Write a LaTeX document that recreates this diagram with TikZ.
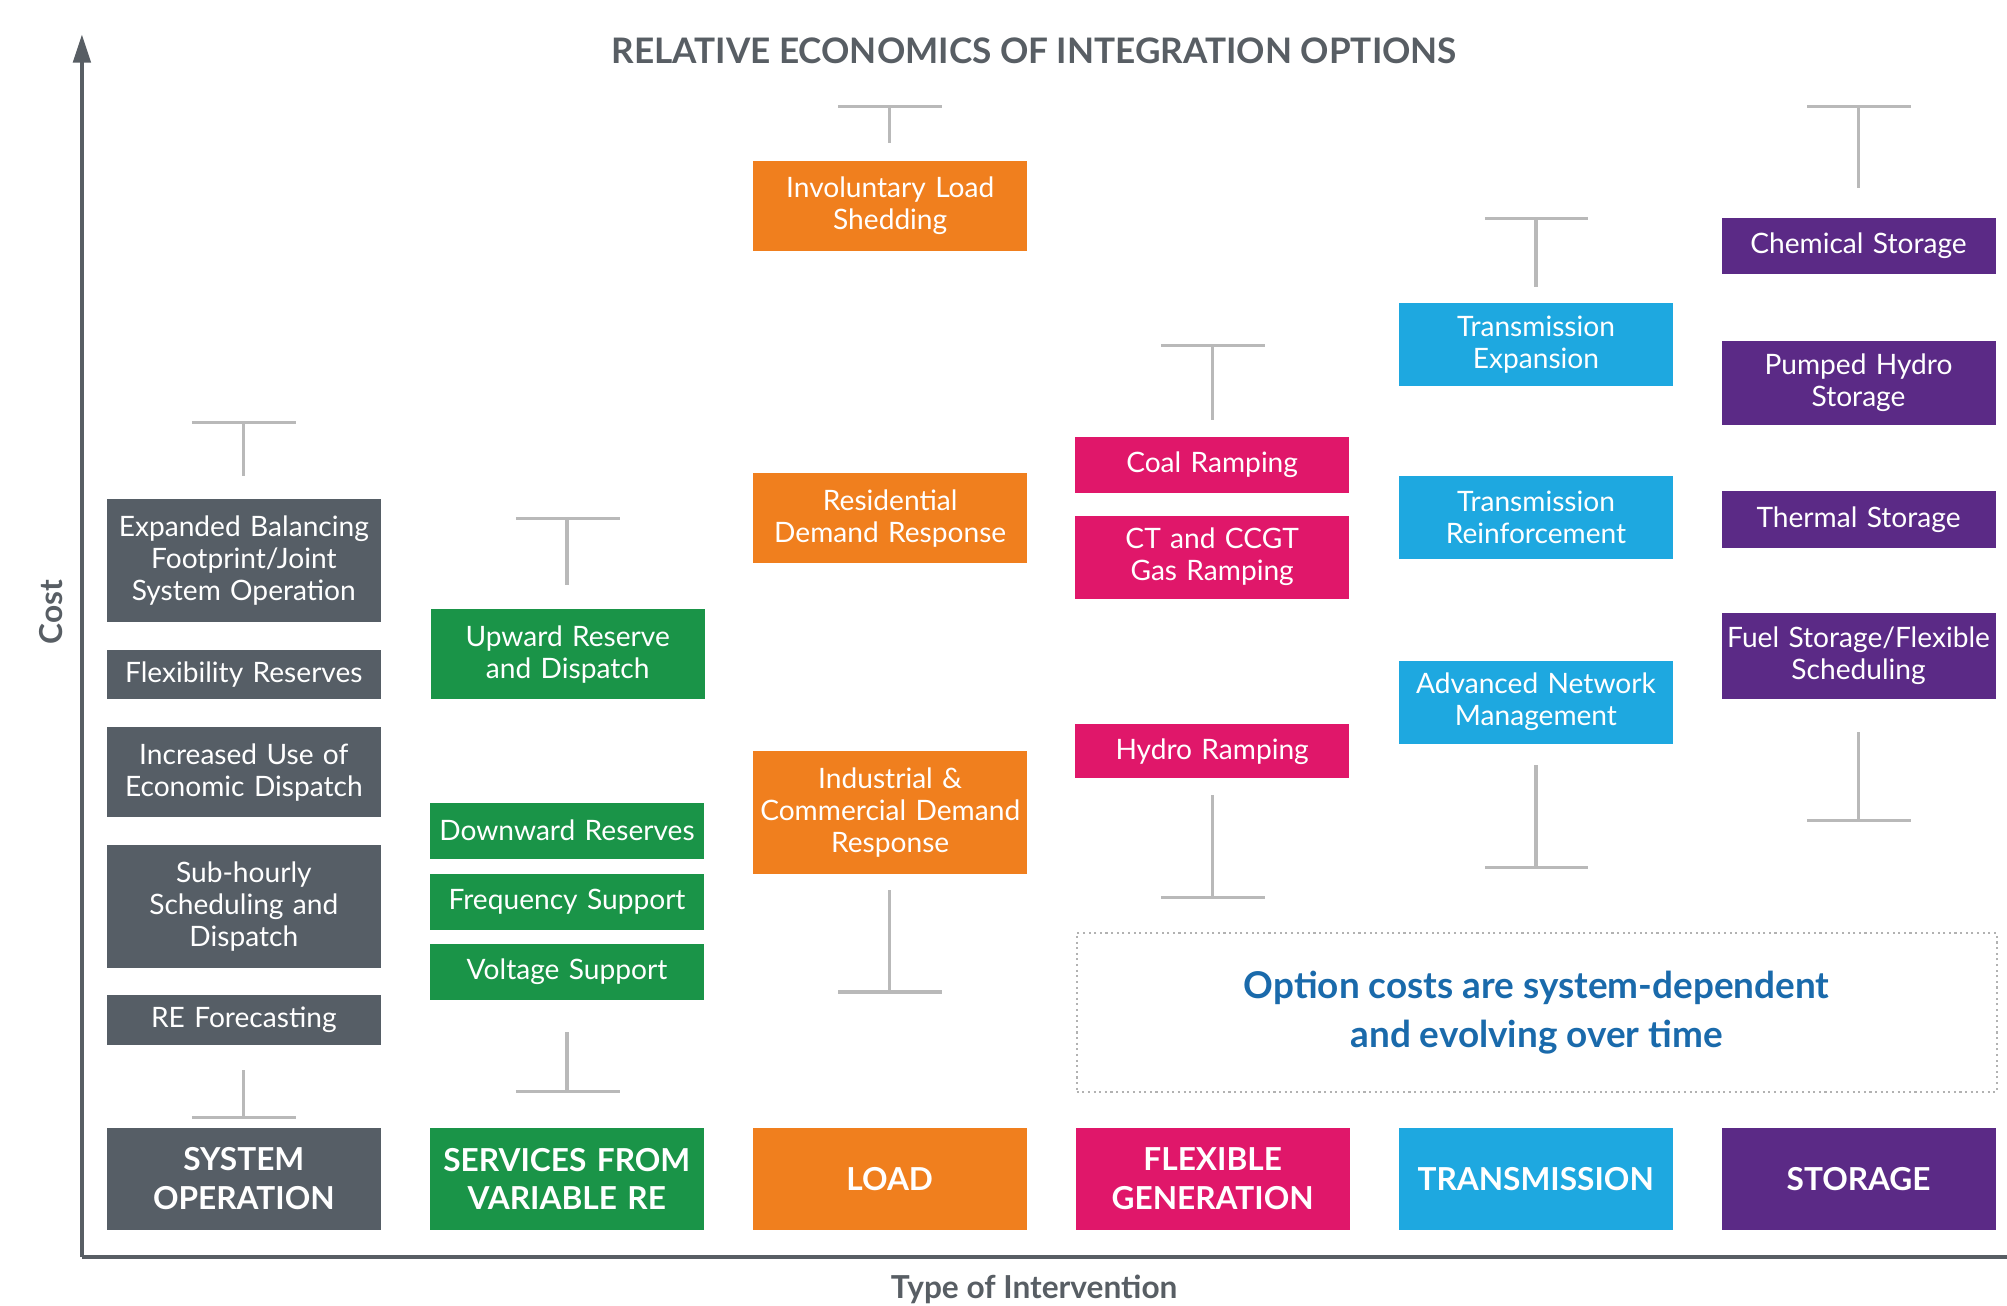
\documentclass[tikz,border=0pt]{standalone}
\usepackage{fontspec}
\setmainfont{Lato}
\usepackage{tikz}
\usetikzlibrary{positioning}
\usetikzlibrary{arrows.meta}

\definecolor{opGray}{RGB}{86,94,102}
\definecolor{reGreen}{RGB}{26,148,72}
\definecolor{loadOrange}{RGB}{240,127,30}
\definecolor{genPink}{RGB}{224,23,106}
\definecolor{transBlue}{RGB}{30,168,224}
\definecolor{storPurple}{RGB}{91,42,134}
\definecolor{axisGray}{RGB}{88,94,100}
\definecolor{noteBlue}{RGB}{26,106,171}

\tikzstyle{arrow} = [line width=1pt,->,>={Triangle[length=8pt,width=5pt]}]
\tikzstyle{axis} = [line width=1pt, draw=axisGray]
\tikzstyle{whisker} = [line width=0.9pt, draw=gray!55]
\tikzstyle{box} = [rectangle, inner sep=0pt, outer sep=0pt, minimum width=2.74cm, text width=2.74cm, align=center, text=white, font=\fontsize{8}{9.1}\selectfont]
\tikzstyle{oneline} = [box, minimum height=0.54cm]
\tikzstyle{twoline} = [box, minimum height=0.87cm]
\tikzstyle{threeline} = [box, minimum height=1.23cm]
\tikzstyle{category} = [box, minimum height=1.02cm, font=\bfseries\fontsize{9}{11}\selectfont]
\tikzstyle{label} = [text=axisGray, font=\bfseries\fontsize{9}{11}\selectfont]

\begin{document}
\begin{tikzpicture}[x=0.0128cm, y=-0.0128cm]
	\useasboundingbox (0,0) rectangle (1568,1020);
	
	%Coordinates
	\coordinate (origin) at (64,982);
	\coordinate (yTop) at (64,27);
	\coordinate (xEnd) at (1568,982);
	
	%Title and axis labels
	\node [label, font=\bfseries\fontsize{10}{12}\selectfont] (title) at (808,40) {RELATIVE ECONOMICS OF INTEGRATION OPTIONS};
	\node [label, rotate=90] (costLbl) at (40,478) {Cost};
	\node [label] (typeLbl) at (808,1007) {Type of Intervention};
	
	%Categories
	\node [category, fill=opGray] (sysOp) at (190.5,921) {SYSTEM\\OPERATION};
	\node [category, fill=reGreen, right=0.49cm of sysOp] (varRE) {SERVICES FROM\\VARIABLE RE};
	\node [category, fill=loadOrange, right=0.49cm of varRE] (load) {LOAD};
	\node [category, fill=genPink, right=0.49cm of load] (flexGen) {FLEXIBLE\\GENERATION};
	\node [category, fill=transBlue, right=0.49cm of flexGen] (trans) {TRANSMISSION};
	\node [category, fill=storPurple, right=0.49cm of trans] (storage) {STORAGE};
	
	%System operation
	\node [threeline, fill=opGray] (expBal) at (190.5,438) {Expanded Balancing\\Footprint/Joint\\System Operation};
	\node [oneline, fill=opGray, minimum height=0.49cm, below=0.28cm of expBal] (flexRes) {Flexibility Reserves};
	\node [twoline, fill=opGray, minimum height=0.9cm, below=0.28cm of flexRes] (incEcon) {Increased Use of\\Economic Dispatch};
	\node [threeline, fill=opGray, below=0.28cm of incEcon] (subHourly) {Sub-hourly\\Scheduling and\\Dispatch};
	\node [oneline, fill=opGray, minimum height=0.5cm, below=0.27cm of subHourly] (reFcst) {RE Forecasting};
	
	%Services from variable RE
	\node [twoline, fill=reGreen, minimum height=0.9cm] (upRes) at (443.5,511) {Upward Reserve\\and Dispatch};
	\node [oneline, fill=reGreen, minimum height=0.56cm] (downRes) at (443,649) {Downward Reserves};
	\node [oneline, fill=reGreen, minimum height=0.56cm, below=0.15cm of downRes] (freqSup) {Frequency Support};
	\node [oneline, fill=reGreen, minimum height=0.56cm, below=0.14cm of freqSup] (voltSup) {Voltage Support};
	
	%Load
	\node [twoline, fill=loadOrange, minimum height=0.9cm] (invShed) at (695.5,161) {Involuntary Load\\Shedding};
	\node [twoline, fill=loadOrange, minimum height=0.9cm] (resDR) at (695.5,405) {Residential\\Demand Response};
	\node [threeline, fill=loadOrange] (indDR) at (695.5,634.5) {Industrial \&\\Commercial Demand\\Response};
	
	%Flexible generation
	\node [oneline, fill=genPink, minimum height=0.56cm] (coalRamp) at (947,363) {Coal Ramping};
	\node [twoline, fill=genPink, minimum height=0.83cm, below=0.23cm of coalRamp] (gasRamp) {CT and CCGT\\Gas Ramping};
	\node [oneline, fill=genPink] (hydroRamp) at (947,587) {Hydro Ramping};
	
	%Transmission
	\node [twoline, fill=transBlue, minimum height=0.83cm] (transExp) at (1200,269.5) {Transmission\\Expansion};
	\node [twoline, fill=transBlue, minimum height=0.83cm] (transReinf) at (1200,404.5) {Transmission\\Reinforcement};
	\node [twoline, fill=transBlue, minimum height=0.83cm] (advNet) at (1200,548.5) {Advanced Network\\Management};
	
	%Storage
	\node [oneline, fill=storPurple, minimum height=0.56cm] (chemStor) at (1452,192) {Chemical Storage};
	\node [twoline, fill=storPurple, minimum height=0.84cm, below=0.67cm of chemStor] (pumpHydro) {Pumped Hydro\\Storage};
	\node [oneline, fill=storPurple, minimum height=0.57cm, below=0.66cm of pumpHydro] (thermStor) {Thermal Storage};
	\node [twoline, fill=storPurple, minimum height=0.86cm, below=0.65cm of thermStor] (fuelStor) {Fuel Storage/Flexible\\Scheduling};
	
	%Note
	\node [rectangle, draw=gray!60, densely dotted, line width=0.6pt, minimum width=9.2cm, minimum height=1.59cm, align=center, text=noteBlue, font=\bfseries\fontsize{10.5}{13.8}\selectfont] (note) at (1200.5,791) {Option costs are system-dependent\\and evolving over time};
	
	%Whiskers
	\draw[whisker] (150,330) -- (231,330) (190,330) -- (190,372);
	\draw[whisker] (150,873) -- (231,873) (190,873) -- (190,836);
	\draw[whisker] (403,405) -- (484,405) (443,405) -- (443,457);
	\draw[whisker] (403,853) -- (484,853) (443,853) -- (443,806);
	\draw[whisker] (655,83) -- (736,83) (695,83) -- (695,112);
	\draw[whisker] (655,775) -- (736,775) (695,775) -- (695,695);
	\draw[whisker] (907,270) -- (988,270) (947,270) -- (947,328);
	\draw[whisker] (907,701) -- (988,701) (947,701) -- (947,621);
	\draw[whisker] (1160,171) -- (1241,171) (1200,171) -- (1200,224);
	\draw[whisker] (1160,678) -- (1241,678) (1200,678) -- (1200,598);
	\draw[whisker] (1412,83) -- (1493,83) (1452,83) -- (1452,147);
	\draw[whisker] (1412,641) -- (1493,641) (1452,641) -- (1452,572);
	
	%Axes
	\draw[axis, arrow] (origin) -- (yTop);
	\draw[axis] (origin) -- (xEnd);
\end{tikzpicture}
\end{document}
